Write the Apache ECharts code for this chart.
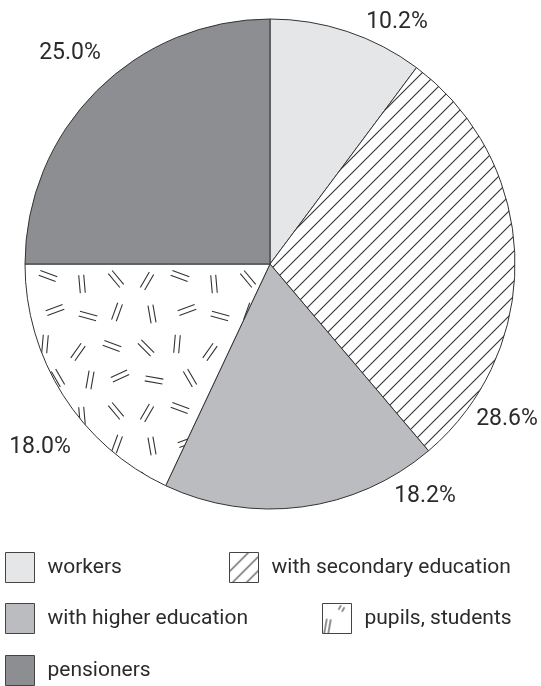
<!DOCTYPE html>
<html>
<head>
<meta charset="utf-8">
<script src="https://cdn.jsdelivr.net/npm/echarts@6/dist/echarts.min.js"></script>
<style>
  html, body { margin: 0; padding: 0; background: #fff; }
  #chart { width: 541px; height: 686px; }
</style>
</head>
<body>
<div id="chart"></div>
<script>
// Population groups and their shares, %
const categories = ['workers', 'with secondary education', 'with higher education', 'pupils, students', 'pensioners'];
const shares = [10.2, 28.6, 18.2, 18.0, 25.0];

// Where each percentage label sits (pixel anchor of the text centre)
const labelAnchors = [[397, 22], [507, 419], [425, 496], [40, 447], [70, 53]];

// Key entries: top-left corner of each swatch
const keySpots = [[5, 552], [229, 552], [5, 603], [322, 603], [5, 655]];

const INK = '#2b2b2b';
const EDGE = '#333';

function makeCanvas(w, h) {
  const c = document.createElement('canvas');
  c.width = w; c.height = h;
  const ctx = c.getContext('2d');
  ctx.fillStyle = '#fff';
  ctx.fillRect(0, 0, w, h);
  ctx.strokeStyle = '#333';
  ctx.lineWidth = 1.1;
  return [c, ctx];
}

// Diagonal "/" hatching, repeating tile
function hatchTile(p) {
  const [c, ctx] = makeCanvas(p, p);
  ctx.beginPath();
  ctx.moveTo(-1, p + 1); ctx.lineTo(p + 1, -1);
  ctx.moveTo(-1, 1); ctx.lineTo(1, -1);
  ctx.moveTo(p - 1, p + 1); ctx.lineTo(p + 1, p - 1);
  ctx.stroke();
  return c;
}

// Double dash mark: two short parallel strokes
function dash(ctx, x, y, deg, len, gap) {
  const a = deg * Math.PI / 180;
  const dx = Math.cos(a) * len / 2, dy = -Math.sin(a) * len / 2;
  const nx = Math.sin(a) * gap / 2, ny = Math.cos(a) * gap / 2;
  ctx.beginPath();
  ctx.moveTo(x - dx + nx, y - dy + ny); ctx.lineTo(x + dx + nx, y + dy + ny);
  ctx.moveTo(x - dx - nx, y - dy - ny); ctx.lineTo(x + dx - nx, y + dy - ny);
  ctx.stroke();
}

// Scattered double-dash texture, repeating tile
function dashTile() {
  const marks = [
    [15, 17, 60], [48, 12, -20], [82, 20, 95], [116, 15, 130],
    [20, 50, 100], [55, 46, 20], [88, 52, -15], [117, 48, 70],
    [14, 84, 135], [45, 80, 85], [78, 88, 55], [112, 82, 160],
    [22, 116, -10], [58, 114, 120], [90, 116, 80], [120, 112, 25]
  ];
  const [c, ctx] = makeCanvas(132, 132);
  marks.forEach(m => dash(ctx, m[0], m[1], m[2], 18, 5));
  return c;
}

// Small swatches for the key
function hatchSwatch() {
  const [c, ctx] = makeCanvas(29, 30);
  ctx.beginPath();
  [19, 33, 47].forEach(k => { ctx.moveTo(k - 31, 31); ctx.lineTo(k + 1, -1); });
  ctx.stroke();
  return c;
}
function dashSwatch() {
  const [c, ctx] = makeCanvas(30, 30);
  dash(ctx, 5, 23, 80, 15, 4);
  dash(ctx, 19, 5, 60, 5, 4);
  return c;
}

const fills = [
  '#e5e6e8',
  { image: hatchTile(15), repeat: 'repeat' },
  '#bbbcc0',
  { image: dashTile(), repeat: 'repeat' },
  '#8d8e92'
];
const keyFills = [
  '#e5e6e8',
  { image: hatchSwatch(), repeat: 'no-repeat' },
  '#bbbcc0',
  { image: dashSwatch(), repeat: 'no-repeat' },
  '#8d8e92'
];

const pieData = categories.map((name, i) => ({
  name: name,
  value: shares[i],
  itemStyle: { color: fills[i] }
}));

// One key component per entry so each can be placed freely
const keys = categories.map((name, i) => ({
  left: keySpots[i][0],
  top: keySpots[i][1],
  padding: 0,
  itemWidth: 29,
  itemHeight: 30,
  selectedMode: false,
  textStyle: { fontFamily: 'Roboto', fontSize: 21, color: INK, padding: [0, 0, 0, 8] },
  data: [{
    name: name,
    icon: 'rect',
    itemStyle: { color: keyFills[i], borderColor: '#444', borderWidth: 1 }
  }]
}));

const chart = echarts.init(document.getElementById('chart'), null, { renderer: 'canvas' });
chart.setOption({
  animation: false,
  backgroundColor: '#fff',
  legend: keys,
  series: [{
    type: 'pie',
    center: [270, 264],
    radius: 245,
    startAngle: 90,
    clockwise: true,
    avoidLabelOverlap: false,
    silent: true,
    emphasis: { disabled: true },
    itemStyle: { borderColor: EDGE, borderWidth: 1 },
    label: {
      show: true,
      position: 'outside',
      fontFamily: 'Roboto',
      fontSize: 23,
      color: INK,
      formatter: p => p.value.toFixed(1) + '%'
    },
    labelLine: { show: false },
    labelLayout: p => {
      const a = labelAnchors[p.dataIndex];
      return { x: a[0], y: a[1], align: 'center', verticalAlign: 'middle' };
    },
    data: pieData
  }]
});
</script>
</body>
</html>
